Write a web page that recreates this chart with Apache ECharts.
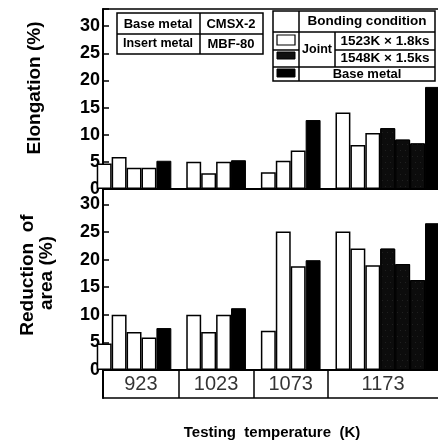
<!DOCTYPE html>
<html><head><meta charset="utf-8">
<script src="https://cdn.jsdelivr.net/npm/echarts@6/dist/echarts.min.js"></script>
<style>html,body{margin:0;padding:0;background:#fff}#c{width:438px;height:447px}</style>
</head><body><div id="c"></div>
<script>
// ---- data ----
const temperatures = ['923', '1023', '1073', '1173'];
// Elongation (%)
const elongJointA = [[4.7, 5.9, 3.9, 3.9], [5.0, 2.9, 5.0], [3.1, 5.2, 7.1], [14.1, 8.1, 10.3]]; // 1523K x 1.8ks
const elongJointB = [[], [], [], [11.2, 9.1, 8.4]];                                              // 1548K x 1.5ks
const elongBase = [5.2, 5.3, 12.7, 18.8];                                                        // base metal
// Reduction of area (%)
const raJointA = [[4.8, 10.0, 6.9, 5.9], [10.0, 6.9, 10.0], [7.1, 25.1, 18.8], [25.1, 22.0, 19.0]];
const raJointB = [[], [], [], [22.0, 19.2, 16.3]];
const raBase = [7.6, 11.2, 19.9, 26.6];
const yTickValues = [0, 5, 10, 15, 20, 25, 30];

// ---- build slot positions ----
function build(jA, jB, base) {
  const a = [], b = [], c = [], bounds = [];
  let x = 0;
  for (let g = 0; g < temperatures.length; g++) {
    jA[g].forEach(v => a.push([x++, v]));
    jB[g].forEach(v => b.push([x++, v]));
    c.push([x++, base[g]]);
    if (g < temperatures.length - 1) { bounds.push(x); x++; }
  }
  return { a, b, c, bounds };
}
const E = build(elongJointA, elongJointB, elongBase);
const R = build(raJointA, raJointB, raBase);

const FONT = '"Liberation Sans", Arial, Helvetica, sans-serif';
const X_MIN = -0.08, X_MAX = 22.37;
const GRID_L = 103, W = 438;
const unitPx = (W - GRID_L) / (X_MAX - X_MIN);

const labelData = temperatures.map((t, g) => {
  const l = g === 0 ? X_MIN : E.bounds[g - 1];
  const r = g === temperatures.length - 1 ? X_MAX : E.bounds[g];
  return [(l + r) / 2, 0.5, t];
});

function xAx(gi, pos, lw) {
  return { type: 'value', gridIndex: gi, min: X_MIN, max: X_MAX, position: pos,
    axisLine: { show: true, onZero: false, lineStyle: { color: '#000', width: lw } },
    axisTick: { show: false }, axisLabel: { show: false }, splitLine: { show: false } };
}
function yAx(gi, max) {
  return { type: 'value', gridIndex: gi, min: 0, max: max, interval: 5,
    axisLine: { show: true, onZero: false, lineStyle: { color: '#000', width: 2 } },
    axisTick: { show: true, inside: true, length: 6, lineStyle: { color: '#000', width: 1.5 } },
    axisLabel: { show: true, margin: 3, color: '#000', fontSize: 18, fontWeight: 'bold', fontFamily: FONT,
      formatter: v => yTickValues.indexOf(v) >= 0 ? String(v) : '' },
    splitLine: { show: false } };
}
const hatch = { symbol: 'circle', symbolSize: 0.7, color: 'rgba(255,255,255,0.35)', dashArrayX: [[1, 4], [0, 2, 1, 2]], dashArrayY: [1, 5], rotation: 0 };
function bars(xi, yi, d, kind) {
  const style = kind === 'a' ? { color: '#fff', borderColor: '#000', borderWidth: 1.5 }
    : kind === 'b' ? { color: '#0c0c0c', borderColor: '#000', borderWidth: 1, decal: hatch }
    : { color: '#000', borderColor: '#000', borderWidth: 1 };
  return { type: 'bar', xAxisIndex: xi, yAxisIndex: yi, data: d, barWidth: unitPx, barGap: '-100%',
    itemStyle: style, silent: true, animation: false };
}

const T = (text, x, y, size, extra) => Object.assign({ type: 'text', x, y, silent: true,
  style: { text, fill: '#000', font: 'bold ' + size + 'px ' + FONT, textAlign: 'center', textVerticalAlign: 'middle' } }, extra || {});
const L = (x1, y1, x2, y2, w) => ({ type: 'line', silent: true, shape: { x1, y1, x2, y2 }, style: { stroke: '#000', lineWidth: w || 1.5 } });
const Rc = (x, y, w, h, fill, lw) => ({ type: 'rect', silent: true, shape: { x, y, width: w, height: h }, style: { fill: fill, stroke: '#000', lineWidth: lw || 1.5 } });

const chart = echarts.init(document.getElementById('c'), null, { renderer: 'canvas' });
chart.setOption({
  backgroundColor: '#fff',
  animation: false,
  grid: [
    { left: GRID_L, right: 0, top: 9, height: 180 },
    { left: GRID_L, right: 0, top: 189, height: 181 },
    { left: GRID_L, right: 0, top: 370, height: 28 }
  ],
  xAxis: [xAx(0, 'bottom', 2), xAx(0, 'top', 1.5), xAx(1, 'bottom', 2), xAx(2, 'bottom', 1.5)],
  yAxis: [yAx(0, 33.15), yAx(1, 32.8),
    { type: 'value', gridIndex: 2, min: 0, max: 1, axisLine: { show: true, onZero: false, lineStyle: { color: '#000', width: 2 } },
      axisTick: { show: false }, axisLabel: { show: false }, splitLine: { show: false } }],
  series: [
    bars(0, 0, E.a, 'a'), bars(0, 0, E.b, 'b'), bars(0, 0, E.c, 'c'),
    bars(2, 1, R.a, 'a'), bars(2, 1, R.b, 'b'), bars(2, 1, R.c, 'c'),
    { type: 'scatter', xAxisIndex: 3, yAxisIndex: 2, data: labelData, symbolSize: 1, silent: true,
      itemStyle: { color: 'rgba(0,0,0,0)' },
      label: { show: true, position: 'inside', formatter: p => p.value[2], color: '#000', fontSize: 20, fontWeight: 500, fontFamily: FONT },
      markLine: { silent: true, symbol: ['none', 'none'], label: { show: false },
        lineStyle: { color: '#000', type: 'solid', width: 1.5 }, data: E.bounds.map(b => ({ xAxis: b })) } }
  ],
  graphic: [
    T('Elongation (%)', 35, 88, 19, { rotation: Math.PI / 2 }),
    T('Reduction  of', 28, 275, 19, { rotation: Math.PI / 2 }),
    T('area (%)', 47, 273, 19, { rotation: Math.PI / 2 }),
    T('Testing  temperature  (K)', 272, 433, 15),
    // table 1
    Rc(117, 13, 146, 41, '#fff'), L(117, 34, 263, 34), L(200, 13, 200, 54),
    T('Base metal', 158, 24, 13), T('CMSX-2', 231, 24, 13),
    T('Insert metal', 158, 44, 12.5), T('MBF-80', 231, 44, 13),
    // table 2
    Rc(273, 11, 162, 70, '#fff'), L(299, 11, 299, 81), L(273, 32, 435, 32),
    L(273, 50, 299, 50), L(335, 50, 435, 50), L(273, 67, 435, 67), L(335, 32, 335, 67),
    T('Bonding condition', 367, 21.5, 13.5), T('Joint', 317, 49.5, 12.5),
    T('1523K × 1.8ks', 385, 41, 13.5), T('1548K × 1.5ks', 385, 58.5, 13.5),
    T('Base metal', 367, 74, 13),
    Rc(277, 35, 18, 10, '#fff', 1.2), Rc(277, 52, 18, 7, '#111', 1), Rc(277, 69, 18, 8, '#000', 1)
  ]
});
</script></body></html>
